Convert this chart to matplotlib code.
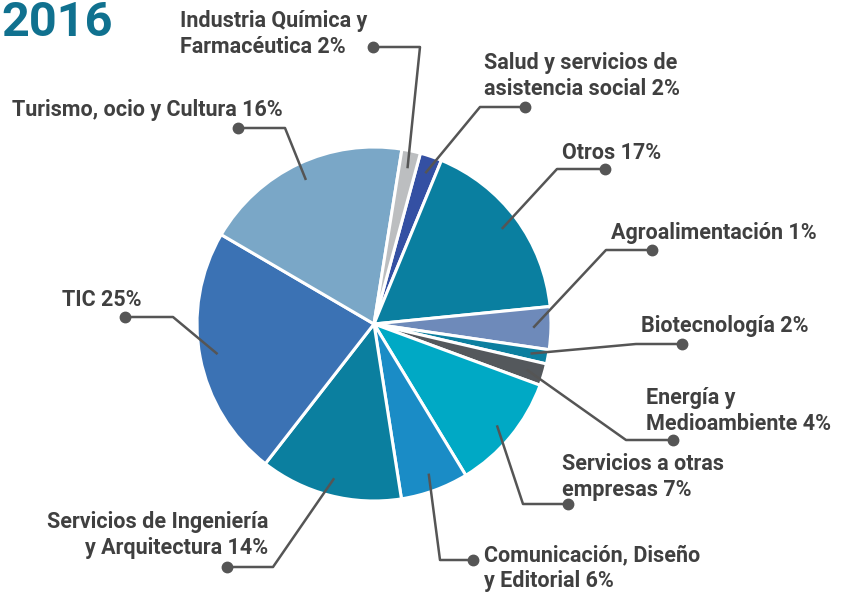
import numpy as np
import matplotlib.pyplot as plt

plt.rcParams['font.family'] = ['Roboto', 'DejaVu Sans']

W, H = 846, 593

# slices clockwise, starting at "Salud"
labels = ['Salud y servicios de\nasistencia social 2%',
          'Otros 17%',
          'Agroalimentación 1%',
          'Biotecnología 2%',
          'Energía y\nMedioambiente 4%',
          'Servicios a otras\nempresas 7%',
          'Comunicación, Diseño\ny Editorial 6%',
          'Servicios de Ingeniería\ny Arquitectura 14%',
          'TIC 25%',
          'Turismo, ocio y Cultura 16%',
          'Industria Química y\nFarmacéutica 2%']
shares = [2.0, 17.2, 3.9, 1.3, 2.0, 10.7, 6.2, 13.0, 22.9, 19.1, 1.7]
colors = ['#3450a3', '#0a7fa0', '#6e8aba', '#0c7f9f', '#54585c', '#00a9c5',
          '#1a8cc6', '#0b7f9f', '#3b72b4', '#7aa7c7', '#bcbec0']

# label layout in pixels from top-left: text x, text y, align, dot x, dot y, elbow x
layout = [(484, 76, 'left', 525, 107, 480),
          (562, 153, 'left', 605, 169, 557),
          (611, 233, 'left', 652, 250, 606),
          (641, 326, 'left', 682, 344, 636),
          (646, 411, 'left', 673, 440, 626),
          (562, 477, 'left', 568, 504, 523),
          (484, 568, 'left', 473, 560, 440),
          (268, 535, 'right', 227, 567, 273),
          (62, 300, 'left', 125, 317, 173),
          (12, 110, 'left', 238, 128, 285),
          (180, 34, 'left', 373, 47, 420)]

cx, cy, r = 374, H - 324, 177
line_col = '#555555'
text_col = '#404040'

fig = plt.figure(figsize=(W / 100, H / 100), dpi=100)
ax = fig.add_axes([0, 0, 1, 1])
wedges, _ = ax.pie(shares, colors=colors, startangle=74.8, counterclock=False,
                   center=(cx, cy), radius=r,
                   wedgeprops=dict(edgecolor='white', linewidth=2.2))
ax.set_xlim(0, W)
ax.set_ylim(0, H)
ax.axis('off')

for w, lab, (tx, ty, ha, dx, dy, ex) in zip(wedges, labels, layout):
    mid = np.deg2rad((w.theta1 + w.theta2) / 2)
    px = cx + 0.9 * r * np.cos(mid)
    py = cy + 0.9 * r * np.sin(mid)
    ax.plot([px, ex, dx], [py, H - dy, H - dy], color=line_col, lw=1.8,
            solid_capstyle='butt', zorder=3)
    ax.plot([dx], [H - dy], 'o', color=line_col, ms=7.5, zorder=4)
    ax.text(tx, H - ty, lab, ha=ha, va='center', multialignment=ha,
            fontsize=15.5, fontweight='bold', color=text_col, linespacing=1.25)

ax.text(1, H - 36, '2016', ha='left', va='baseline', fontsize=35,
        fontweight='bold', color='#10718f')

fig.savefig('out.png', dpi=100)
